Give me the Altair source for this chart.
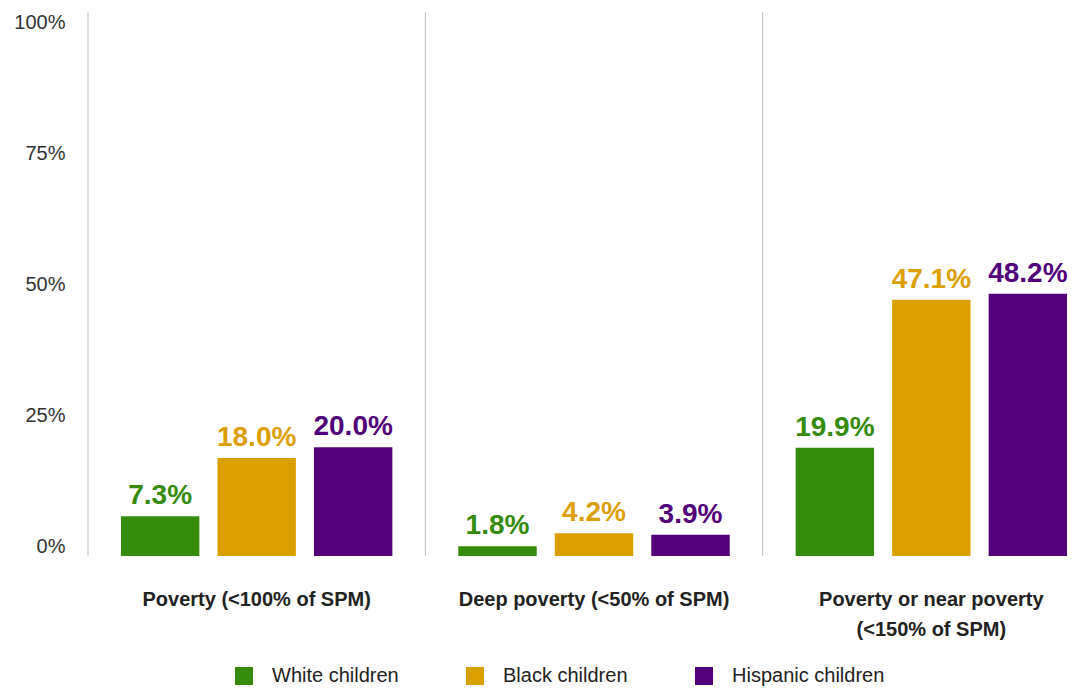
import altair as alt
import pandas as pd

groups = ["Poverty (<100% of SPM)", "Deep poverty (<50% of SPM)", "Poverty or near poverty (<150% of SPM)"]
races = ["White children", "Black children", "Hispanic children"]
white = [7.3, 1.8, 19.9]
black = [18.0, 4.2, 47.1]
hispanic = [20.0, 3.9, 48.2]
colors = ["#348b0c", "#dba000", "#51007a"]
y_ticks = [0, 25, 50, 75, 100]

rows = []
for i, g in enumerate(groups):
    for r, vals in zip(races, [white, black, hispanic]):
        rows.append({"group": g, "race": r, "value": vals[i]})
df = pd.DataFrame(rows)
sep_df = pd.DataFrame({"group": groups, "top": [100] * 3, "bottom": [0] * 3})
tick_df = pd.DataFrame({"v": y_ticks})

W, H = 996, 544
XR = 1012          # x range (last band runs past the visible edge, as in the source)
band = XR / 3
step = 96.5
p_outer = ((band / step) - 3 + 0.1875) / 2

x_scale = alt.Scale(domain=groups, paddingInner=0, paddingOuter=0, range=[0, XR])

x_enc = alt.X(
    "group:N",
    sort=groups,
    scale=x_scale,
    axis=alt.Axis(
        title=None, labelAngle=0, domain=False, ticks=False,
        labelFontSize=20, labelFontWeight="bold", labelColor="#222222",
        labelAlign="center", labelBaseline="top",
        labelPadding=33, labelLineHeight=30, labelLimit=400,
        labelExpr="datum.value == 'Poverty or near poverty (<150% of SPM)' ? ['Poverty or near poverty', '(<150% of SPM)'] : datum.value",
    ),
)
xo_enc = alt.XOffset(
    "race:N", sort=races,
    scale=alt.Scale(domain=races, paddingInner=0.1875, paddingOuter=p_outer),
)
y_scale = alt.Scale(domain=[0, 100])
color_enc = alt.Color(
    "race:N", sort=races,
    scale=alt.Scale(domain=races, range=colors),
    legend=alt.Legend(
        title=None, orient="none", legendX=146, legendY=654, direction="horizontal",
        symbolType="square", symbolSize=324, symbolStrokeWidth=0, symbolOpacity=1,
        labelFontSize=20, labelColor="#222222", labelOffset=18, columnPadding=66,
        padding=0,
    ),
)

seps = alt.Chart(sep_df).mark_rule(color="#bdbdbd", strokeWidth=1, xOffset=-band / 2).encode(
    x=alt.X("group:N", sort=groups, scale=x_scale),
    y=alt.Y("top:Q", scale=y_scale, axis=None),
    y2="bottom:Q",
)

bars = alt.Chart(df).mark_bar().encode(
    x=x_enc,
    xOffset=xo_enc,
    y=alt.Y("value:Q", scale=y_scale, axis=None),
    color=color_enc,
)

labels = alt.Chart(df).transform_calculate(
    label="format(datum.value, '.1f') + '%'"
).mark_text(
    fontSize=28, fontWeight="bold", baseline="alphabetic", dy=-12
).encode(
    x=alt.X("group:N", sort=groups, scale=x_scale),
    xOffset=alt.XOffset("race:N", sort=races),
    y=alt.Y("value:Q", scale=y_scale, axis=None),
    text="label:N",
    color=alt.Color("race:N", sort=races, legend=None),
)

main = alt.layer(seps, bars, labels)

yaxis = alt.Chart(tick_df).mark_point(opacity=0).encode(
    y=alt.Y(
        "v:Q",
        scale=alt.Scale(domain=[0, 100], range=[534, 10], nice=False),
        axis=alt.Axis(
            title=None, values=y_ticks, domain=False, ticks=False, grid=False,
            labelFontSize=20, labelColor="#333333", labelPadding=23,
            labelExpr="datum.value + '%'",
        ),
    ),
)

chart = alt.layer(main, yaxis).resolve_scale(y="independent").properties(
    width=W, height=H,
    autosize=alt.AutoSizeParams(type="none"),
    padding={"left": 80, "top": 4, "right": 0, "bottom": 132},
).configure(
    font="Liberation Sans",
).configure_view(stroke=None)

chart.save("out.html", embed_options={"renderer": "svg", "actions": False})
